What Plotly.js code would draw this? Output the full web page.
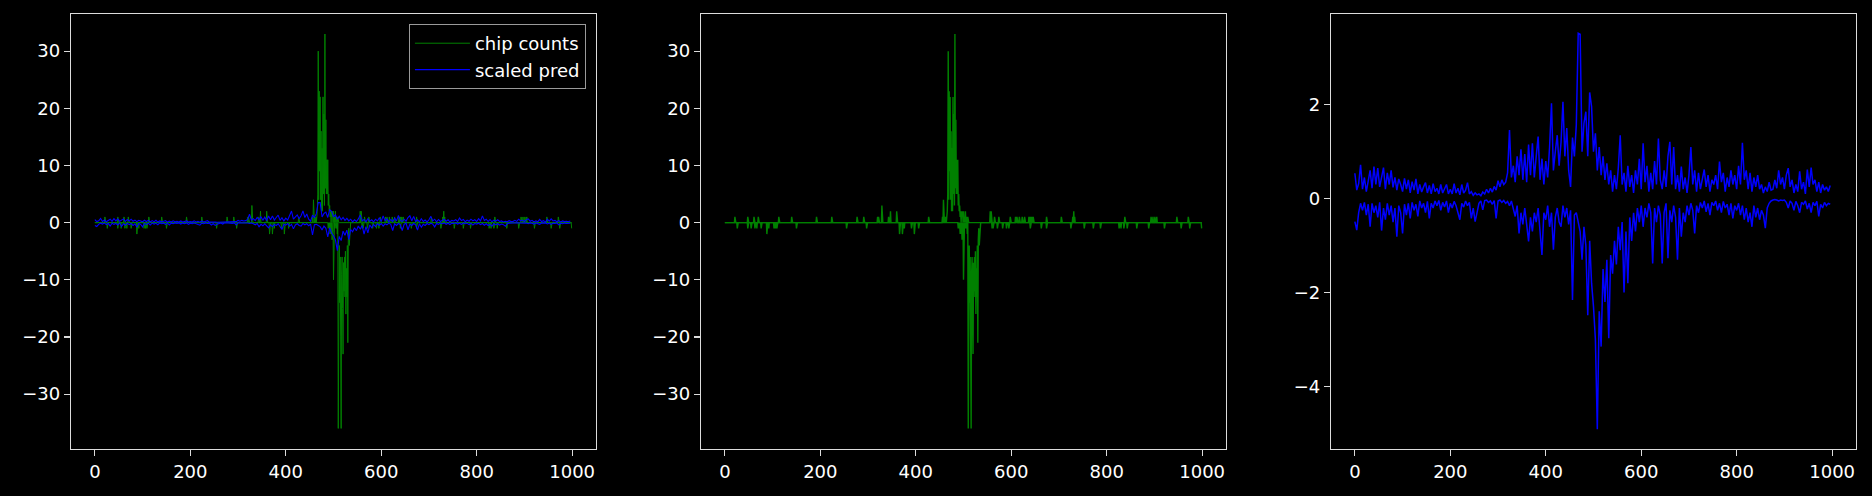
<!DOCTYPE html>
<html>
<head>
<meta charset="utf-8">
<script src="https://cdn.plot.ly/plotly-3.0.1.min.js"></script>
<style>
  html, body { margin: 0; padding: 0; background: #000; }
  #chart { width: 1872px; height: 496px; }
</style>
</head>
<body>
<div id="chart"></div>
<script>
// ---------------- data ----------------
const N_POINTS = 1000;

// chip counts, positive strand: sparse non-zero entries (index, count)
const chipPosIdx = [21, 48, 61, 70, 113, 140, 192, 224, 277, 291, 320, 322, 329, 343, 347, 360, 427,
  456, 458, 459, 461, 463, 465, 466, 467, 468, 469, 470, 471, 472, 473, 474, 475, 476, 477, 478, 479,
  480, 481, 482, 483, 484, 485, 486, 487, 488, 489, 490, 491, 492, 493, 494, 496, 497, 498, 500, 502,
  504, 506, 509, 556, 558, 565, 574, 598, 609, 612, 617, 623, 628, 637, 640, 643, 646, 674, 705,
  729, 731, 733, 838, 893, 897, 901, 905, 947, 971];
const chipPosVal = [1, 1, 1, 1, 1, 1, 1, 1, 1, 1, 1, 1, 3, 1, 2, 2, 1,
  1, 4, 1, 1, 1, 1, 2, 5, 30, 4, 23, 9, 22, 4, 16, 2, 13, 2, 22, 5,
  19, 3, 33, 6, 18, 5, 11, 5, 11, 3, 5, 2, 3, 1, 2, 2, 1, 2, 2, 1,
  2, 1, 1, 2, 2, 1, 1, 1, 1, 1, 1, 1, 1, 1, 1, 1, 1, 1, 1,
  1, 2, 1, 1, 1, 1, 1, 1, 1, 1];

// chip counts, negative strand: sparse non-zero entries (index, count)
const chipNegIdx = [26, 48, 55, 63, 67, 76, 88, 92, 103, 106, 109, 150, 255, 297, 366, 372, 376, 391,
  397, 406, 489, 491, 493, 495, 497, 500, 503, 506, 508, 510, 511, 512, 513, 514, 515, 516, 517, 518,
  519, 520, 521, 522, 523, 524, 525, 526, 527, 528, 529, 530, 531, 532, 533, 534, 535, 560, 562, 571,
  582, 590, 595, 640, 663, 674, 725, 753, 772, 787, 826, 830, 836, 843, 863, 888, 921, 956, 974, 999];
const chipNegVal = [-1, -1, -1, -1, -1, -1, -2, -1, -1, -1, -1, -1, -1, -1, -2, -2, -1, -1,
  -2, -1, -1, -1, -2, -2, -3, -10, -1, -1, -2, -36, -8, -4, -14, -6, -20, -36, -9, -6,
  -15, -23, -7, -12, -6, -13, -5, -16, -8, -13, -4, -21, -3, -1, -4, -2, -1, -1, -1, -1,
  -1, -1, -1, -1, -1, -1, -1, -1, -1, -1, -1, -1, -1, -1, -1, -1, -1, -1, -1, -1];

// scaled prediction, positive strand, sampled every 4 positions (0 .. 996)
const PRED_STEP = 4;
const predPos = [
  0.54, 0.18, 0.32, 0.72, 0.2, 0.45, 0.15, 0.38, 0.6, 0.22, 0.68, 0.3, 0.65, 0.25, 0.5, 0.66, 0.2, 0.55, 0.3, 0.6, 0.24, 0.45, 0.18, 0.42, 0.3,
  0.15, 0.43, 0.2, 0.4, 0.12, 0.36, 0.18, 0.42, 0.1, 0.3, 0.14, 0.25, 0.34, 0.12, 0.28, 0.1, 0.32, 0.15, 0.22, 0.1, 0.3, 0.12, 0.2, 0.3, 0.1,
  0.2, 0.1, 0.32, 0.12, 0.22, 0.08, 0.3, 0.12, 0.18, 0.34, 0.1, 0.15, 0.07, 0.12, 0.08, 0.1, 0.06, 0.14, 0.1, 0.2, 0.12, 0.22, 0.14, 0.26, 0.18,
  0.38, 0.25, 0.4, 0.3, 0.35, 0.55, 1.46, 0.45, 0.7, 0.35, 0.9, 0.5, 1.05, 0.4, 0.95, 0.35, 1.15, 0.5, 1.18, 0.45, 0.9, 1.32, 0.4, 0.85, 0.3,
  0.8, 0.45, 1.1, 2.03, 0.6, 1.0, 1.35, 0.7, 1.2, 2.06, 0.9, 1.5, 0.6, 0.25, 1.3, 0.9, 1.57, 3.52, 3.5, 1.0, 1.6, 1.85, 0.9, 2.26, 1.96,
  1.0, 1.39, 0.6, 1.1, 0.5, 0.9, 0.4, 0.75, 0.3, 0.6, 0.15, 0.5, 0.2, 0.65, 1.35, 0.3, 0.55, 0.15, 0.7, 0.25, 0.5, 0.12, 0.6, 0.3, 0.85,
  0.2, 1.18, 0.35, 0.7, 0.15, 0.55, 0.2, 0.8, 0.3, 1.28, 0.4, 0.2, 0.6, 0.25, 0.9, 1.21, 0.3, 1.1, 0.2, 0.5, 0.15, 0.68, 0.2, 0.45, 0.12,
  0.5, 1.1, 0.3, 0.6, 0.15, 0.55, 0.2, 0.45, 0.62, 0.25, 0.5, 0.15, 0.4, 0.3, 0.5, 0.2, 0.79, 0.35, 0.55, 0.15, 0.45, 0.25, 0.6, 0.3, 0.5,
  0.2, 0.7, 0.3, 1.19, 0.4, 0.6, 0.2, 0.55, 0.15, 0.45, 0.25, 0.5, 0.2, 0.3, 0.12, 0.25, 0.15, 0.35, 0.18, 0.2, 0.4, 0.22, 0.6, 0.3, 0.45,
  0.2, 0.5, 0.65, 0.25, 0.4, 0.12, 0.3, 0.15, 0.58, 0.2, 0.35, 0.1, 0.62, 0.25, 0.66, 0.3, 0.4, 0.15, 0.35, 0.12, 0.3, 0.18, 0.25, 0.15, 0.28
];

// scaled prediction, negative strand, sampled every 4 positions (0 .. 996)
const predNeg = [
  -0.49, -0.67, -0.3, -0.1, -0.25, -0.08, -0.35, -0.12, -0.6, -0.1, -0.3, -0.15, -0.4, -0.08, -0.68, -0.2, -0.45, -0.1, -0.35, -0.15, -0.5, -0.2, -0.81, -0.15, -0.3,
  -0.74, -0.12, -0.35, -0.1, -0.42, -0.08, -0.25, -0.12, -0.38, -0.05, -0.2, -0.1, -0.3, -0.06, -0.42, -0.1, -0.2, -0.05, -0.15, -0.04, -0.25, -0.08, -0.18, -0.05, -0.3,
  -0.1, -0.2, -0.06, -0.15, -0.3, -0.45, -0.1, -0.18, -0.05, -0.15, -0.08, -0.42, -0.2, -0.49, -0.3, -0.1, -0.05, -0.24, -0.04, -0.03, -0.08, -0.05, -0.12, -0.04, -0.42,
  -0.05, -0.03, -0.08, -0.04, -0.1, -0.06, -0.15, -0.05, -0.2, -0.38, -0.15, -0.74, -0.3, -0.55, -0.2, -0.6, -0.91, -0.4, -0.7, -0.3, -0.5, -0.2, -0.65, -1.2, -0.3,
  -0.45, -0.15, -0.6, -0.3, -1.09, -0.4, -0.2, -0.5, -0.6, -0.15, -0.4, -0.2, -0.55, -0.25, -2.16, -0.35, -0.3, -0.5, -0.7, -1.3, -0.6, -1.0, -2.48, -0.9, -1.8,
  -2.3, -3.0, -4.91, -2.4, -3.15, -1.5, -2.2, -1.3, -2.97, -1.2, -1.6, -0.9, -1.4, -0.6, -1.1, -0.5, -2.0, -0.7, -1.8, -0.4, -0.9, -0.3, -0.7, -0.2, -0.5,
  -0.15, -0.6, -0.2, -0.4, -0.1, -0.3, -1.38, -0.2, -0.5, -0.15, -0.35, -1.38, -0.3, -0.1, -1.27, -0.25, -0.5, -0.15, -0.4, -1.3, -0.2, -0.81, -0.3, -0.5, -0.15,
  -0.35, -0.1, -0.25, -0.74, -0.15, -0.3, -0.08, -0.2, -0.05, -0.28, -0.1, -0.35, -0.08, -0.15, -0.05, -0.25, -0.1, -0.3, -0.06, -0.2, -0.12, -0.35, -0.1, -0.42, -0.15,
  -0.25, -0.1, -0.35, -0.15, -0.45, -0.2, -0.5, -0.3, -0.6, -0.15, -0.4, -0.2, -0.45, -0.25, -0.35, -0.63, -0.2, -0.1, -0.05, -0.03, -0.02, -0.03, -0.05, -0.03, -0.04,
  -0.03, -0.08, -0.2, -0.05, -0.1, -0.25, -0.06, -0.15, -0.3, -0.08, -0.12, -0.05, -0.22, -0.1, -0.3, -0.08, -0.15, -0.06, -0.38, -0.12, -0.2, -0.08, -0.15, -0.1, -0.12
];

const xTickVals = [0, 200, 400, 600, 800, 1000];
const yTickValsCounts = [-30, -20, -10, 0, 10, 20, 30];
const yTickValsPred = [-4, -2, 0, 2];
const legendNames = ['chip counts', 'scaled pred'];

// ---------------- build full arrays from sparse entries ----------------
function dense(idx, val) {
  const arr = new Array(N_POINTS).fill(0);
  idx.forEach((k, i) => { arr[k] = val[i]; });
  return arr;
}
const chipPos = dense(chipPosIdx, chipPosVal);
const chipNeg = dense(chipNegIdx, chipNegVal);

const GREEN = '#008000';
const BLUE = '#0000ff';

function countTrace(y, xa, ya, w, showleg) {
  return { type: 'scatter', mode: 'lines', x0: 0, dx: 1, y: y, xaxis: xa, yaxis: ya,
    line: { color: GREEN, width: w }, name: legendNames[0], legendgroup: 'chip',
    showlegend: showleg, hoverinfo: 'skip' };
}
function predTrace(y, xa, ya, w, showleg) {
  return { type: 'scatter', mode: 'lines', x0: 0, dx: PRED_STEP, y: y, xaxis: xa, yaxis: ya,
    line: { color: BLUE, width: w }, name: legendNames[1], legendgroup: 'pred',
    showlegend: showleg, hoverinfo: 'skip' };
}

const traces = [
  countTrace(chipPos, 'x', 'y', 1.0, true),
  countTrace(chipNeg, 'x', 'y', 1.0, false),
  predTrace(predPos, 'x', 'y', 1.1, true),
  predTrace(predNeg, 'x', 'y', 1.1, false),
  countTrace(chipPos, 'x2', 'y2', 1.4, false),
  countTrace(chipNeg, 'x2', 'y2', 1.4, false),
  predTrace(predPos, 'x3', 'y3', 1.5, false),
  predTrace(predNeg, 'x3', 'y3', 1.5, false)
];

const FRAME = '#dcdcdc';
const font = { family: 'DejaVu Sans, sans-serif', size: 18, color: '#ffffff' };

function xAxis(domain, anchor) {
  return { domain: domain, anchor: anchor, range: [-50, 1050], tickmode: 'array', tickvals: xTickVals,
    showgrid: false, zeroline: false, showline: true, mirror: true, linecolor: FRAME, linewidth: 1.2,
    ticks: 'outside', ticklen: 6, tickwidth: 1.2, tickcolor: FRAME, tickfont: font };
}
function yAxis(range, tickvals, anchor) {
  return { domain: [0.09476, 0.97177], anchor: anchor, range: range, tickmode: 'array', tickvals: tickvals,
    showgrid: false, zeroline: false, showline: true, mirror: true, linecolor: FRAME, linewidth: 1.2,
    ticks: 'outside', ticklen: 6, tickwidth: 1.2, tickcolor: FRAME, tickfont: font };
}

const layout = {
  width: 1872, height: 496,
  margin: { l: 0, r: 0, t: 0, b: 0, pad: 0 },
  paper_bgcolor: '#000000', plot_bgcolor: '#000000',
  font: font,
  showlegend: true,
  legend: { x: 0.3130, y: 0.9516, xanchor: 'right', yanchor: 'top', bgcolor: '#000000',
    bordercolor: '#9a9a9a', borderwidth: 1, font: font, tracegroupgap: 0, itemwidth: 55 },
  xaxis: xAxis([0.03793, 0.31838], 'y'),
  yaxis: yAxis([-39.6, 36.5], yTickValsCounts, 'x'),
  xaxis2: xAxis([0.37447, 0.65491], 'y2'),
  yaxis2: yAxis([-39.6, 36.5], yTickValsCounts, 'x2'),
  xaxis3: xAxis([0.71100, 0.99145], 'y3'),
  yaxis3: yAxis([-5.33, 3.93], yTickValsPred, 'x3')
};

Plotly.newPlot('chart', traces, layout, { staticPlot: true, displayModeBar: false });
</script>
</body>
</html>
